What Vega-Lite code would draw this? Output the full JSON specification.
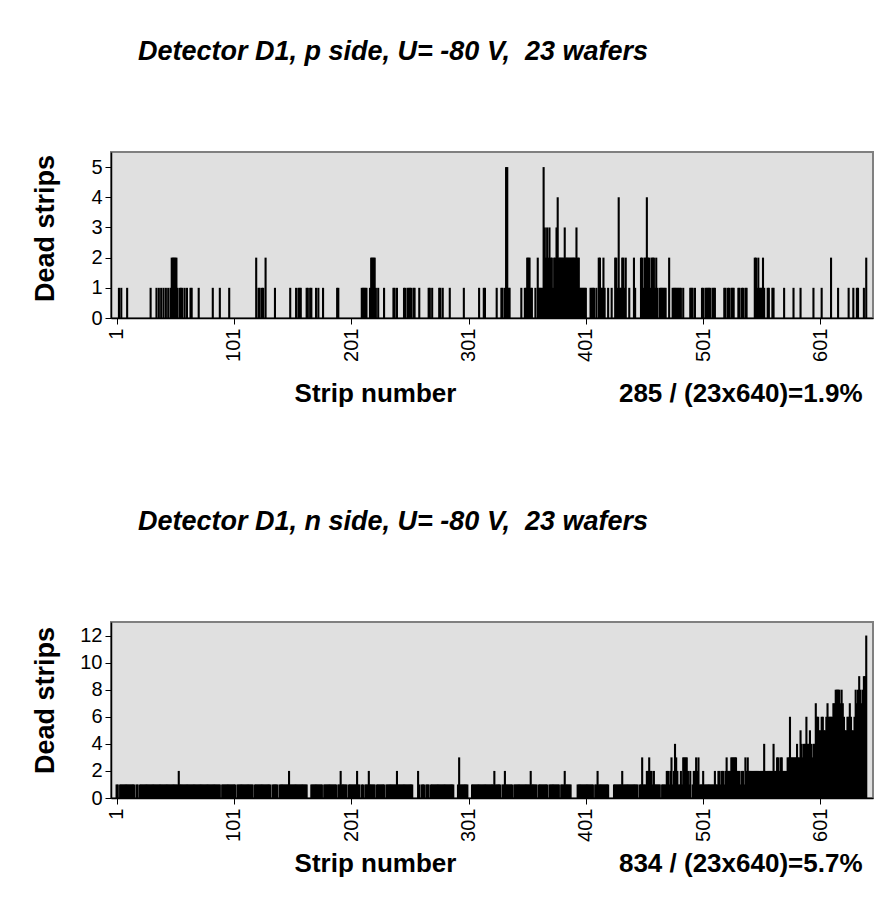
{
"$schema": "https://vega.github.io/schema/vega-lite/v6.json",
"background": "white",
"padding": {"left": 30, "top": 37, "right": 0, "bottom": 0},
"spacing": 100,
"config": {
  "view": {"stroke": "#808080", "strokeWidth": 2, "fill": "#E0E0E0"},
  "font": "Liberation Sans",
  "axis": {"labelColor": "black", "titleColor": "black", "tickColor": "black", "domainColor": "black", "grid": false, "labelFont": "Liberation Sans", "titleFont": "Liberation Sans", "labelOverlap": false, "labelFlush": false}
},
"datasets": {
"p": [{"s":3,"v":1},{"s":5,"v":1},{"s":10,"v":1},{"s":30,"v":1},{"s":35,"v":1},{"s":37,"v":1},{"s":39,"v":1},{"s":41,"v":1},{"s":43,"v":1},{"s":45,"v":1},{"s":47,"v":1},{"s":48,"v":2},{"s":49,"v":2},{"s":50,"v":2},{"s":51,"v":2},{"s":52,"v":2},{"s":53,"v":1},{"s":55,"v":1},{"s":56,"v":1},{"s":57,"v":1},{"s":59,"v":1},{"s":61,"v":1},{"s":64,"v":1},{"s":65,"v":1},{"s":71,"v":1},{"s":83,"v":1},{"s":89,"v":1},{"s":97,"v":1},{"s":120,"v":2},{"s":122,"v":1},{"s":123,"v":1},{"s":125,"v":1},{"s":126,"v":1},{"s":128,"v":2},{"s":136,"v":1},{"s":149,"v":1},{"s":154,"v":1},{"s":156,"v":1},{"s":157,"v":1},{"s":158,"v":1},{"s":163,"v":1},{"s":164,"v":1},{"s":166,"v":1},{"s":167,"v":1},{"s":171,"v":1},{"s":173,"v":1},{"s":177,"v":1},{"s":189,"v":1},{"s":190,"v":1},{"s":210,"v":1},{"s":211,"v":1},{"s":212,"v":1},{"s":213,"v":1},{"s":214,"v":1},{"s":217,"v":1},{"s":218,"v":2},{"s":219,"v":2},{"s":220,"v":2},{"s":221,"v":2},{"s":222,"v":1},{"s":224,"v":1},{"s":229,"v":1},{"s":237,"v":1},{"s":238,"v":1},{"s":240,"v":1},{"s":246,"v":1},{"s":247,"v":1},{"s":249,"v":1},{"s":250,"v":1},{"s":251,"v":1},{"s":252,"v":1},{"s":254,"v":1},{"s":255,"v":1},{"s":259,"v":1},{"s":267,"v":1},{"s":268,"v":1},{"s":270,"v":1},{"s":276,"v":1},{"s":277,"v":1},{"s":279,"v":1},{"s":285,"v":1},{"s":297,"v":1},{"s":310,"v":1},{"s":314,"v":1},{"s":315,"v":1},{"s":325,"v":1},{"s":329,"v":1},{"s":330,"v":1},{"s":332,"v":1},{"s":333,"v":5},{"s":334,"v":5},{"s":335,"v":1},{"s":336,"v":1},{"s":346,"v":1},{"s":349,"v":1},{"s":350,"v":1},{"s":351,"v":2},{"s":352,"v":2},{"s":353,"v":2},{"s":354,"v":1},{"s":355,"v":1},{"s":358,"v":1},{"s":360,"v":2},{"s":361,"v":1},{"s":362,"v":1},{"s":363,"v":1},{"s":364,"v":1},{"s":365,"v":5},{"s":366,"v":3},{"s":367,"v":2},{"s":368,"v":3},{"s":369,"v":2},{"s":370,"v":3},{"s":371,"v":2},{"s":372,"v":2},{"s":373,"v":1},{"s":374,"v":2},{"s":375,"v":2},{"s":376,"v":3},{"s":377,"v":4},{"s":378,"v":2},{"s":379,"v":2},{"s":380,"v":2},{"s":381,"v":2},{"s":382,"v":2},{"s":383,"v":3},{"s":384,"v":2},{"s":385,"v":2},{"s":386,"v":2},{"s":387,"v":2},{"s":388,"v":2},{"s":389,"v":2},{"s":390,"v":2},{"s":391,"v":2},{"s":392,"v":2},{"s":393,"v":3},{"s":394,"v":2},{"s":395,"v":2},{"s":396,"v":1},{"s":397,"v":1},{"s":398,"v":1},{"s":399,"v":1},{"s":400,"v":1},{"s":401,"v":1},{"s":405,"v":1},{"s":406,"v":1},{"s":407,"v":1},{"s":408,"v":1},{"s":410,"v":1},{"s":412,"v":2},{"s":413,"v":2},{"s":414,"v":1},{"s":415,"v":1},{"s":416,"v":2},{"s":417,"v":1},{"s":420,"v":1},{"s":423,"v":1},{"s":426,"v":2},{"s":427,"v":2},{"s":428,"v":1},{"s":429,"v":4},{"s":430,"v":1},{"s":431,"v":1},{"s":432,"v":2},{"s":433,"v":2},{"s":434,"v":1},{"s":435,"v":2},{"s":438,"v":1},{"s":442,"v":2},{"s":443,"v":1},{"s":448,"v":2},{"s":449,"v":2},{"s":450,"v":1},{"s":451,"v":2},{"s":452,"v":2},{"s":453,"v":4},{"s":454,"v":2},{"s":455,"v":2},{"s":456,"v":1},{"s":457,"v":2},{"s":458,"v":2},{"s":459,"v":2},{"s":460,"v":1},{"s":461,"v":2},{"s":462,"v":1},{"s":464,"v":1},{"s":465,"v":1},{"s":466,"v":1},{"s":467,"v":1},{"s":468,"v":1},{"s":469,"v":1},{"s":472,"v":2},{"s":475,"v":1},{"s":476,"v":1},{"s":477,"v":1},{"s":478,"v":1},{"s":479,"v":1},{"s":480,"v":1},{"s":481,"v":1},{"s":482,"v":1},{"s":484,"v":1},{"s":490,"v":1},{"s":491,"v":1},{"s":492,"v":1},{"s":494,"v":1},{"s":500,"v":1},{"s":501,"v":1},{"s":503,"v":1},{"s":504,"v":1},{"s":505,"v":1},{"s":506,"v":1},{"s":507,"v":1},{"s":509,"v":1},{"s":510,"v":1},{"s":511,"v":1},{"s":519,"v":1},{"s":520,"v":1},{"s":522,"v":1},{"s":523,"v":1},{"s":525,"v":1},{"s":526,"v":1},{"s":527,"v":1},{"s":531,"v":1},{"s":532,"v":1},{"s":534,"v":1},{"s":535,"v":1},{"s":537,"v":1},{"s":538,"v":1},{"s":545,"v":2},{"s":546,"v":2},{"s":547,"v":1},{"s":548,"v":2},{"s":549,"v":1},{"s":550,"v":1},{"s":551,"v":1},{"s":552,"v":2},{"s":553,"v":1},{"s":556,"v":1},{"s":557,"v":1},{"s":560,"v":1},{"s":561,"v":1},{"s":570,"v":1},{"s":578,"v":1},{"s":584,"v":1},{"s":595,"v":1},{"s":602,"v":1},{"s":610,"v":2},{"s":616,"v":1},{"s":625,"v":1},{"s":629,"v":1},{"s":632,"v":1},{"s":633,"v":1},{"s":638,"v":1},{"s":640,"v":2}],
"n": [{"s":1,"v":1},{"s":2,"v":1},{"s":4,"v":1},{"s":5,"v":1},{"s":6,"v":1},{"s":7,"v":1},{"s":8,"v":1},{"s":9,"v":1},{"s":10,"v":1},{"s":11,"v":1},{"s":12,"v":1},{"s":13,"v":1},{"s":14,"v":1},{"s":15,"v":1},{"s":16,"v":1},{"s":18,"v":1},{"s":19,"v":1},{"s":21,"v":1},{"s":22,"v":1},{"s":23,"v":1},{"s":24,"v":1},{"s":25,"v":1},{"s":26,"v":1},{"s":27,"v":1},{"s":28,"v":1},{"s":29,"v":1},{"s":30,"v":1},{"s":31,"v":1},{"s":32,"v":1},{"s":33,"v":1},{"s":34,"v":1},{"s":35,"v":1},{"s":36,"v":1},{"s":37,"v":1},{"s":38,"v":1},{"s":39,"v":1},{"s":40,"v":1},{"s":41,"v":1},{"s":42,"v":1},{"s":43,"v":1},{"s":44,"v":1},{"s":45,"v":1},{"s":46,"v":1},{"s":47,"v":1},{"s":48,"v":1},{"s":49,"v":1},{"s":50,"v":1},{"s":51,"v":1},{"s":52,"v":1},{"s":53,"v":1},{"s":54,"v":2},{"s":55,"v":1},{"s":56,"v":1},{"s":57,"v":1},{"s":58,"v":1},{"s":59,"v":1},{"s":60,"v":1},{"s":61,"v":1},{"s":62,"v":1},{"s":63,"v":1},{"s":64,"v":1},{"s":65,"v":1},{"s":66,"v":1},{"s":67,"v":1},{"s":68,"v":1},{"s":69,"v":1},{"s":70,"v":1},{"s":71,"v":1},{"s":72,"v":1},{"s":73,"v":1},{"s":74,"v":1},{"s":75,"v":1},{"s":76,"v":1},{"s":77,"v":1},{"s":78,"v":1},{"s":79,"v":1},{"s":80,"v":1},{"s":81,"v":1},{"s":82,"v":1},{"s":83,"v":1},{"s":84,"v":1},{"s":85,"v":1},{"s":86,"v":1},{"s":87,"v":1},{"s":88,"v":1},{"s":89,"v":1},{"s":91,"v":1},{"s":92,"v":1},{"s":93,"v":1},{"s":94,"v":1},{"s":95,"v":1},{"s":96,"v":1},{"s":97,"v":1},{"s":98,"v":1},{"s":99,"v":1},{"s":100,"v":1},{"s":101,"v":1},{"s":102,"v":1},{"s":104,"v":1},{"s":105,"v":1},{"s":106,"v":1},{"s":107,"v":1},{"s":108,"v":1},{"s":109,"v":1},{"s":110,"v":1},{"s":111,"v":1},{"s":112,"v":1},{"s":113,"v":1},{"s":114,"v":1},{"s":115,"v":1},{"s":116,"v":1},{"s":117,"v":1},{"s":119,"v":1},{"s":120,"v":1},{"s":121,"v":1},{"s":122,"v":1},{"s":123,"v":1},{"s":124,"v":1},{"s":125,"v":1},{"s":126,"v":1},{"s":127,"v":1},{"s":128,"v":1},{"s":129,"v":1},{"s":130,"v":1},{"s":131,"v":1},{"s":132,"v":1},{"s":134,"v":1},{"s":135,"v":1},{"s":136,"v":1},{"s":137,"v":1},{"s":138,"v":1},{"s":140,"v":1},{"s":141,"v":1},{"s":142,"v":1},{"s":143,"v":1},{"s":144,"v":1},{"s":145,"v":1},{"s":146,"v":1},{"s":147,"v":1},{"s":148,"v":2},{"s":149,"v":1},{"s":150,"v":1},{"s":151,"v":1},{"s":152,"v":1},{"s":153,"v":1},{"s":154,"v":1},{"s":155,"v":1},{"s":156,"v":1},{"s":157,"v":1},{"s":158,"v":1},{"s":159,"v":1},{"s":160,"v":1},{"s":161,"v":1},{"s":162,"v":1},{"s":163,"v":1},{"s":167,"v":1},{"s":168,"v":1},{"s":169,"v":1},{"s":170,"v":1},{"s":171,"v":1},{"s":172,"v":1},{"s":173,"v":1},{"s":174,"v":1},{"s":175,"v":1},{"s":176,"v":1},{"s":178,"v":1},{"s":179,"v":1},{"s":180,"v":1},{"s":181,"v":1},{"s":182,"v":1},{"s":183,"v":1},{"s":184,"v":1},{"s":185,"v":1},{"s":186,"v":1},{"s":187,"v":1},{"s":188,"v":1},{"s":190,"v":1},{"s":191,"v":1},{"s":192,"v":2},{"s":193,"v":1},{"s":194,"v":1},{"s":195,"v":1},{"s":196,"v":1},{"s":197,"v":1},{"s":199,"v":1},{"s":200,"v":1},{"s":201,"v":1},{"s":202,"v":1},{"s":203,"v":1},{"s":204,"v":1},{"s":205,"v":1},{"s":206,"v":2},{"s":207,"v":1},{"s":208,"v":1},{"s":210,"v":1},{"s":211,"v":1},{"s":213,"v":1},{"s":214,"v":1},{"s":215,"v":1},{"s":216,"v":2},{"s":217,"v":1},{"s":218,"v":1},{"s":219,"v":1},{"s":220,"v":1},{"s":221,"v":1},{"s":223,"v":1},{"s":224,"v":1},{"s":225,"v":1},{"s":226,"v":1},{"s":227,"v":1},{"s":228,"v":1},{"s":229,"v":1},{"s":231,"v":1},{"s":232,"v":1},{"s":233,"v":1},{"s":234,"v":1},{"s":235,"v":1},{"s":236,"v":1},{"s":237,"v":1},{"s":238,"v":1},{"s":239,"v":1},{"s":240,"v":2},{"s":241,"v":1},{"s":242,"v":1},{"s":243,"v":1},{"s":244,"v":1},{"s":245,"v":1},{"s":246,"v":1},{"s":247,"v":1},{"s":248,"v":1},{"s":249,"v":1},{"s":250,"v":1},{"s":251,"v":1},{"s":252,"v":1},{"s":253,"v":1},{"s":258,"v":2},{"s":259,"v":1},{"s":261,"v":1},{"s":262,"v":1},{"s":263,"v":1},{"s":265,"v":1},{"s":266,"v":1},{"s":267,"v":1},{"s":269,"v":1},{"s":270,"v":1},{"s":271,"v":1},{"s":272,"v":1},{"s":273,"v":1},{"s":274,"v":1},{"s":275,"v":1},{"s":276,"v":1},{"s":277,"v":1},{"s":278,"v":1},{"s":279,"v":1},{"s":280,"v":1},{"s":281,"v":1},{"s":282,"v":1},{"s":283,"v":1},{"s":284,"v":1},{"s":285,"v":1},{"s":286,"v":1},{"s":287,"v":1},{"s":288,"v":1},{"s":292,"v":1},{"s":293,"v":3},{"s":294,"v":1},{"s":295,"v":1},{"s":296,"v":1},{"s":297,"v":1},{"s":298,"v":1},{"s":299,"v":1},{"s":300,"v":1},{"s":304,"v":1},{"s":305,"v":1},{"s":306,"v":1},{"s":307,"v":1},{"s":308,"v":1},{"s":309,"v":1},{"s":310,"v":1},{"s":311,"v":1},{"s":312,"v":1},{"s":313,"v":1},{"s":314,"v":1},{"s":315,"v":1},{"s":316,"v":1},{"s":317,"v":1},{"s":318,"v":1},{"s":319,"v":1},{"s":320,"v":1},{"s":321,"v":1},{"s":322,"v":1},{"s":323,"v":2},{"s":324,"v":1},{"s":325,"v":1},{"s":326,"v":1},{"s":327,"v":1},{"s":328,"v":1},{"s":330,"v":1},{"s":331,"v":1},{"s":332,"v":2},{"s":333,"v":1},{"s":334,"v":1},{"s":335,"v":1},{"s":336,"v":1},{"s":337,"v":1},{"s":338,"v":1},{"s":340,"v":1},{"s":341,"v":1},{"s":342,"v":1},{"s":343,"v":1},{"s":344,"v":1},{"s":345,"v":1},{"s":346,"v":1},{"s":347,"v":1},{"s":348,"v":1},{"s":349,"v":1},{"s":350,"v":1},{"s":351,"v":1},{"s":352,"v":1},{"s":353,"v":1},{"s":354,"v":2},{"s":355,"v":1},{"s":356,"v":1},{"s":357,"v":1},{"s":358,"v":1},{"s":359,"v":1},{"s":361,"v":1},{"s":362,"v":1},{"s":363,"v":1},{"s":364,"v":1},{"s":365,"v":1},{"s":366,"v":1},{"s":367,"v":1},{"s":368,"v":1},{"s":370,"v":1},{"s":371,"v":1},{"s":372,"v":1},{"s":373,"v":1},{"s":374,"v":1},{"s":375,"v":1},{"s":376,"v":1},{"s":377,"v":1},{"s":378,"v":1},{"s":380,"v":1},{"s":381,"v":1},{"s":382,"v":1},{"s":383,"v":2},{"s":384,"v":1},{"s":385,"v":1},{"s":386,"v":1},{"s":387,"v":1},{"s":388,"v":1},{"s":394,"v":1},{"s":395,"v":1},{"s":396,"v":1},{"s":397,"v":1},{"s":398,"v":1},{"s":399,"v":1},{"s":400,"v":1},{"s":401,"v":1},{"s":402,"v":1},{"s":403,"v":1},{"s":404,"v":1},{"s":405,"v":1},{"s":406,"v":1},{"s":407,"v":1},{"s":409,"v":1},{"s":410,"v":1},{"s":411,"v":2},{"s":412,"v":1},{"s":413,"v":1},{"s":414,"v":1},{"s":415,"v":1},{"s":416,"v":1},{"s":417,"v":1},{"s":418,"v":1},{"s":419,"v":1},{"s":420,"v":1},{"s":425,"v":1},{"s":426,"v":1},{"s":427,"v":1},{"s":428,"v":1},{"s":429,"v":1},{"s":430,"v":1},{"s":431,"v":1},{"s":432,"v":2},{"s":433,"v":1},{"s":434,"v":1},{"s":435,"v":1},{"s":436,"v":1},{"s":437,"v":1},{"s":438,"v":1},{"s":439,"v":1},{"s":440,"v":1},{"s":441,"v":1},{"s":442,"v":1},{"s":443,"v":1},{"s":444,"v":1},{"s":445,"v":1},{"s":447,"v":1},{"s":448,"v":1},{"s":449,"v":3},{"s":450,"v":1},{"s":451,"v":1},{"s":452,"v":1},{"s":453,"v":2},{"s":454,"v":2},{"s":455,"v":3},{"s":456,"v":2},{"s":457,"v":2},{"s":458,"v":1},{"s":459,"v":2},{"s":460,"v":1},{"s":461,"v":1},{"s":462,"v":1},{"s":463,"v":1},{"s":464,"v":1},{"s":466,"v":1},{"s":467,"v":1},{"s":468,"v":1},{"s":469,"v":1},{"s":470,"v":2},{"s":471,"v":2},{"s":472,"v":1},{"s":473,"v":2},{"s":474,"v":3},{"s":475,"v":1},{"s":476,"v":2},{"s":477,"v":4},{"s":478,"v":3},{"s":479,"v":2},{"s":480,"v":1},{"s":481,"v":1},{"s":482,"v":2},{"s":483,"v":1},{"s":484,"v":3},{"s":485,"v":3},{"s":486,"v":3},{"s":487,"v":3},{"s":488,"v":2},{"s":489,"v":1},{"s":490,"v":2},{"s":492,"v":1},{"s":493,"v":2},{"s":494,"v":2},{"s":495,"v":3},{"s":496,"v":2},{"s":497,"v":3},{"s":498,"v":1},{"s":499,"v":1},{"s":500,"v":1},{"s":501,"v":2},{"s":502,"v":1},{"s":503,"v":1},{"s":504,"v":1},{"s":505,"v":1},{"s":506,"v":1},{"s":507,"v":1},{"s":508,"v":1},{"s":509,"v":1},{"s":510,"v":1},{"s":511,"v":2},{"s":512,"v":1},{"s":513,"v":1},{"s":514,"v":2},{"s":515,"v":2},{"s":516,"v":1},{"s":517,"v":2},{"s":518,"v":2},{"s":519,"v":1},{"s":520,"v":2},{"s":521,"v":3},{"s":522,"v":2},{"s":523,"v":2},{"s":524,"v":2},{"s":525,"v":3},{"s":526,"v":3},{"s":527,"v":3},{"s":528,"v":3},{"s":529,"v":3},{"s":530,"v":2},{"s":531,"v":2},{"s":532,"v":2},{"s":533,"v":1},{"s":534,"v":2},{"s":535,"v":2},{"s":536,"v":1},{"s":537,"v":3},{"s":538,"v":2},{"s":539,"v":3},{"s":540,"v":2},{"s":541,"v":2},{"s":542,"v":2},{"s":543,"v":2},{"s":544,"v":2},{"s":545,"v":2},{"s":546,"v":2},{"s":547,"v":2},{"s":548,"v":2},{"s":549,"v":2},{"s":550,"v":2},{"s":551,"v":2},{"s":552,"v":2},{"s":553,"v":4},{"s":554,"v":2},{"s":555,"v":2},{"s":556,"v":2},{"s":557,"v":2},{"s":558,"v":2},{"s":559,"v":2},{"s":560,"v":2},{"s":561,"v":4},{"s":562,"v":2},{"s":563,"v":2},{"s":564,"v":3},{"s":565,"v":3},{"s":566,"v":2},{"s":567,"v":3},{"s":568,"v":3},{"s":569,"v":2},{"s":570,"v":2},{"s":571,"v":2},{"s":572,"v":2},{"s":573,"v":3},{"s":574,"v":3},{"s":575,"v":6},{"s":576,"v":3},{"s":577,"v":3},{"s":578,"v":3},{"s":579,"v":3},{"s":580,"v":3},{"s":581,"v":4},{"s":582,"v":3},{"s":583,"v":3},{"s":584,"v":5},{"s":585,"v":4},{"s":586,"v":3},{"s":587,"v":4},{"s":588,"v":4},{"s":589,"v":6},{"s":590,"v":4},{"s":591,"v":4},{"s":592,"v":5},{"s":593,"v":4},{"s":594,"v":3},{"s":595,"v":4},{"s":596,"v":4},{"s":597,"v":7},{"s":598,"v":6},{"s":599,"v":6},{"s":600,"v":5},{"s":601,"v":5},{"s":602,"v":6},{"s":603,"v":6},{"s":604,"v":5},{"s":605,"v":5},{"s":606,"v":6},{"s":607,"v":7},{"s":608,"v":6},{"s":609,"v":6},{"s":610,"v":6},{"s":611,"v":6},{"s":612,"v":7},{"s":613,"v":7},{"s":614,"v":8},{"s":615,"v":8},{"s":616,"v":8},{"s":617,"v":8},{"s":618,"v":7},{"s":619,"v":8},{"s":620,"v":7},{"s":621,"v":6},{"s":622,"v":5},{"s":623,"v":5},{"s":624,"v":6},{"s":625,"v":6},{"s":626,"v":7},{"s":627,"v":6},{"s":628,"v":5},{"s":629,"v":5},{"s":630,"v":6},{"s":631,"v":8},{"s":632,"v":7},{"s":633,"v":8},{"s":634,"v":9},{"s":635,"v":8},{"s":636,"v":7},{"s":637,"v":8},{"s":638,"v":9},{"s":639,"v":9},{"s":640,"v":12}]
},
"vconcat": [
{
  "width": 762, "height": 166,
  "data": {"name": "p"},
  "title": {"text": "Detector D1, p side, U= -80 V,\u00a0 23 wafers", "fontSize": 27, "fontStyle": "italic", "fontWeight": "bold", "font": "Liberation Sans", "color": "black", "anchor": "middle", "dx": -99, "offset": 86},
  "layer": [
    {"mark": {"type": "bar", "color": "black", "size": 2.1},
     "encoding": {
       "x": {"field": "s", "type": "quantitative", "scale": {"domain": [0.5, 641.5], "nice": false, "zero": false},
             "axis": {"values": [1,101,201,301,401,501,601], "labelAngle": 270, "labelFontSize": 20, "labelPadding": 4, "tickSize": 6, "domainWidth": 1.5,
                      "title": "Strip number", "titleFontSize": 26, "titleFontWeight": "bold", "titleX": 264, "titleY": 83, "titleAlign": "center", "titleBaseline": "alphabetic"}},
       "y": {"field": "v", "type": "quantitative", "scale": {"domain": [0, 5.5], "nice": false},
             "axis": {"values": [0,1,2,3,4,5], "labelFontSize": 20, "tickSize": 6, "labelPadding": 3, "domainWidth": 1.5,
                      "title": "Dead strips", "titleFontSize": 27, "titleFontWeight": "bold", "titleX": -66, "titleY": 76, "titleBaseline": "middle", "titleAlign": "center"}}
     }},
    {"mark": {"type": "tick", "opacity": 0},
     "encoding": {
       "x": {"field": "s", "type": "quantitative", "scale": {"domain": [0.5, 641.5], "nice": false, "zero": false},
             "axis": {"orient": "bottom", "labels": false, "ticks": false, "domain": false, "title": "285 / (23x640)=1.9%", "titleFontSize": 26, "titleFontWeight": "bold", "titleX": 751, "titleY": 83, "titleAlign": "right", "titleBaseline": "alphabetic"}}
     }}
  ],
  "resolve": {"scale": {"x": "independent"}}
},
{
  "width": 762, "height": 176,
  "data": {"name": "n"},
  "title": {"text": "Detector D1, n side, U= -80 V,\u00a0 23 wafers", "fontSize": 27, "fontStyle": "italic", "fontWeight": "bold", "font": "Liberation Sans", "color": "black", "anchor": "middle", "dx": -99, "offset": 86},
  "layer": [
    {"mark": {"type": "bar", "color": "black", "size": 2.1},
     "encoding": {
       "x": {"field": "s", "type": "quantitative", "scale": {"domain": [0.5, 641.5], "nice": false, "zero": false},
             "axis": {"values": [1,101,201,301,401,501,601], "labelAngle": 270, "labelFontSize": 20, "labelPadding": 4, "tickSize": 6, "domainWidth": 1.5,
                      "title": "Strip number", "titleFontSize": 26, "titleFontWeight": "bold", "titleX": 264, "titleY": 73, "titleAlign": "center", "titleBaseline": "alphabetic"}},
       "y": {"field": "v", "type": "quantitative", "scale": {"domain": [0, 13], "nice": false},
             "axis": {"values": [0,2,4,6,8,10,12], "labelFontSize": 20, "tickSize": 6, "labelPadding": 3, "domainWidth": 1.5,
                      "title": "Dead strips", "titleFontSize": 27, "titleFontWeight": "bold", "titleX": -66, "titleY": 78, "titleBaseline": "middle", "titleAlign": "center"}}
     }},
    {"mark": {"type": "tick", "opacity": 0},
     "encoding": {
       "x": {"field": "s", "type": "quantitative", "scale": {"domain": [0.5, 641.5], "nice": false, "zero": false},
             "axis": {"orient": "bottom", "labels": false, "ticks": false, "domain": false, "title": "834 / (23x640)=5.7%", "titleFontSize": 26, "titleFontWeight": "bold", "titleX": 751, "titleY": 73, "titleAlign": "right", "titleBaseline": "alphabetic"}}
     }}
  ],
  "resolve": {"scale": {"x": "independent"}}
}
]
}
